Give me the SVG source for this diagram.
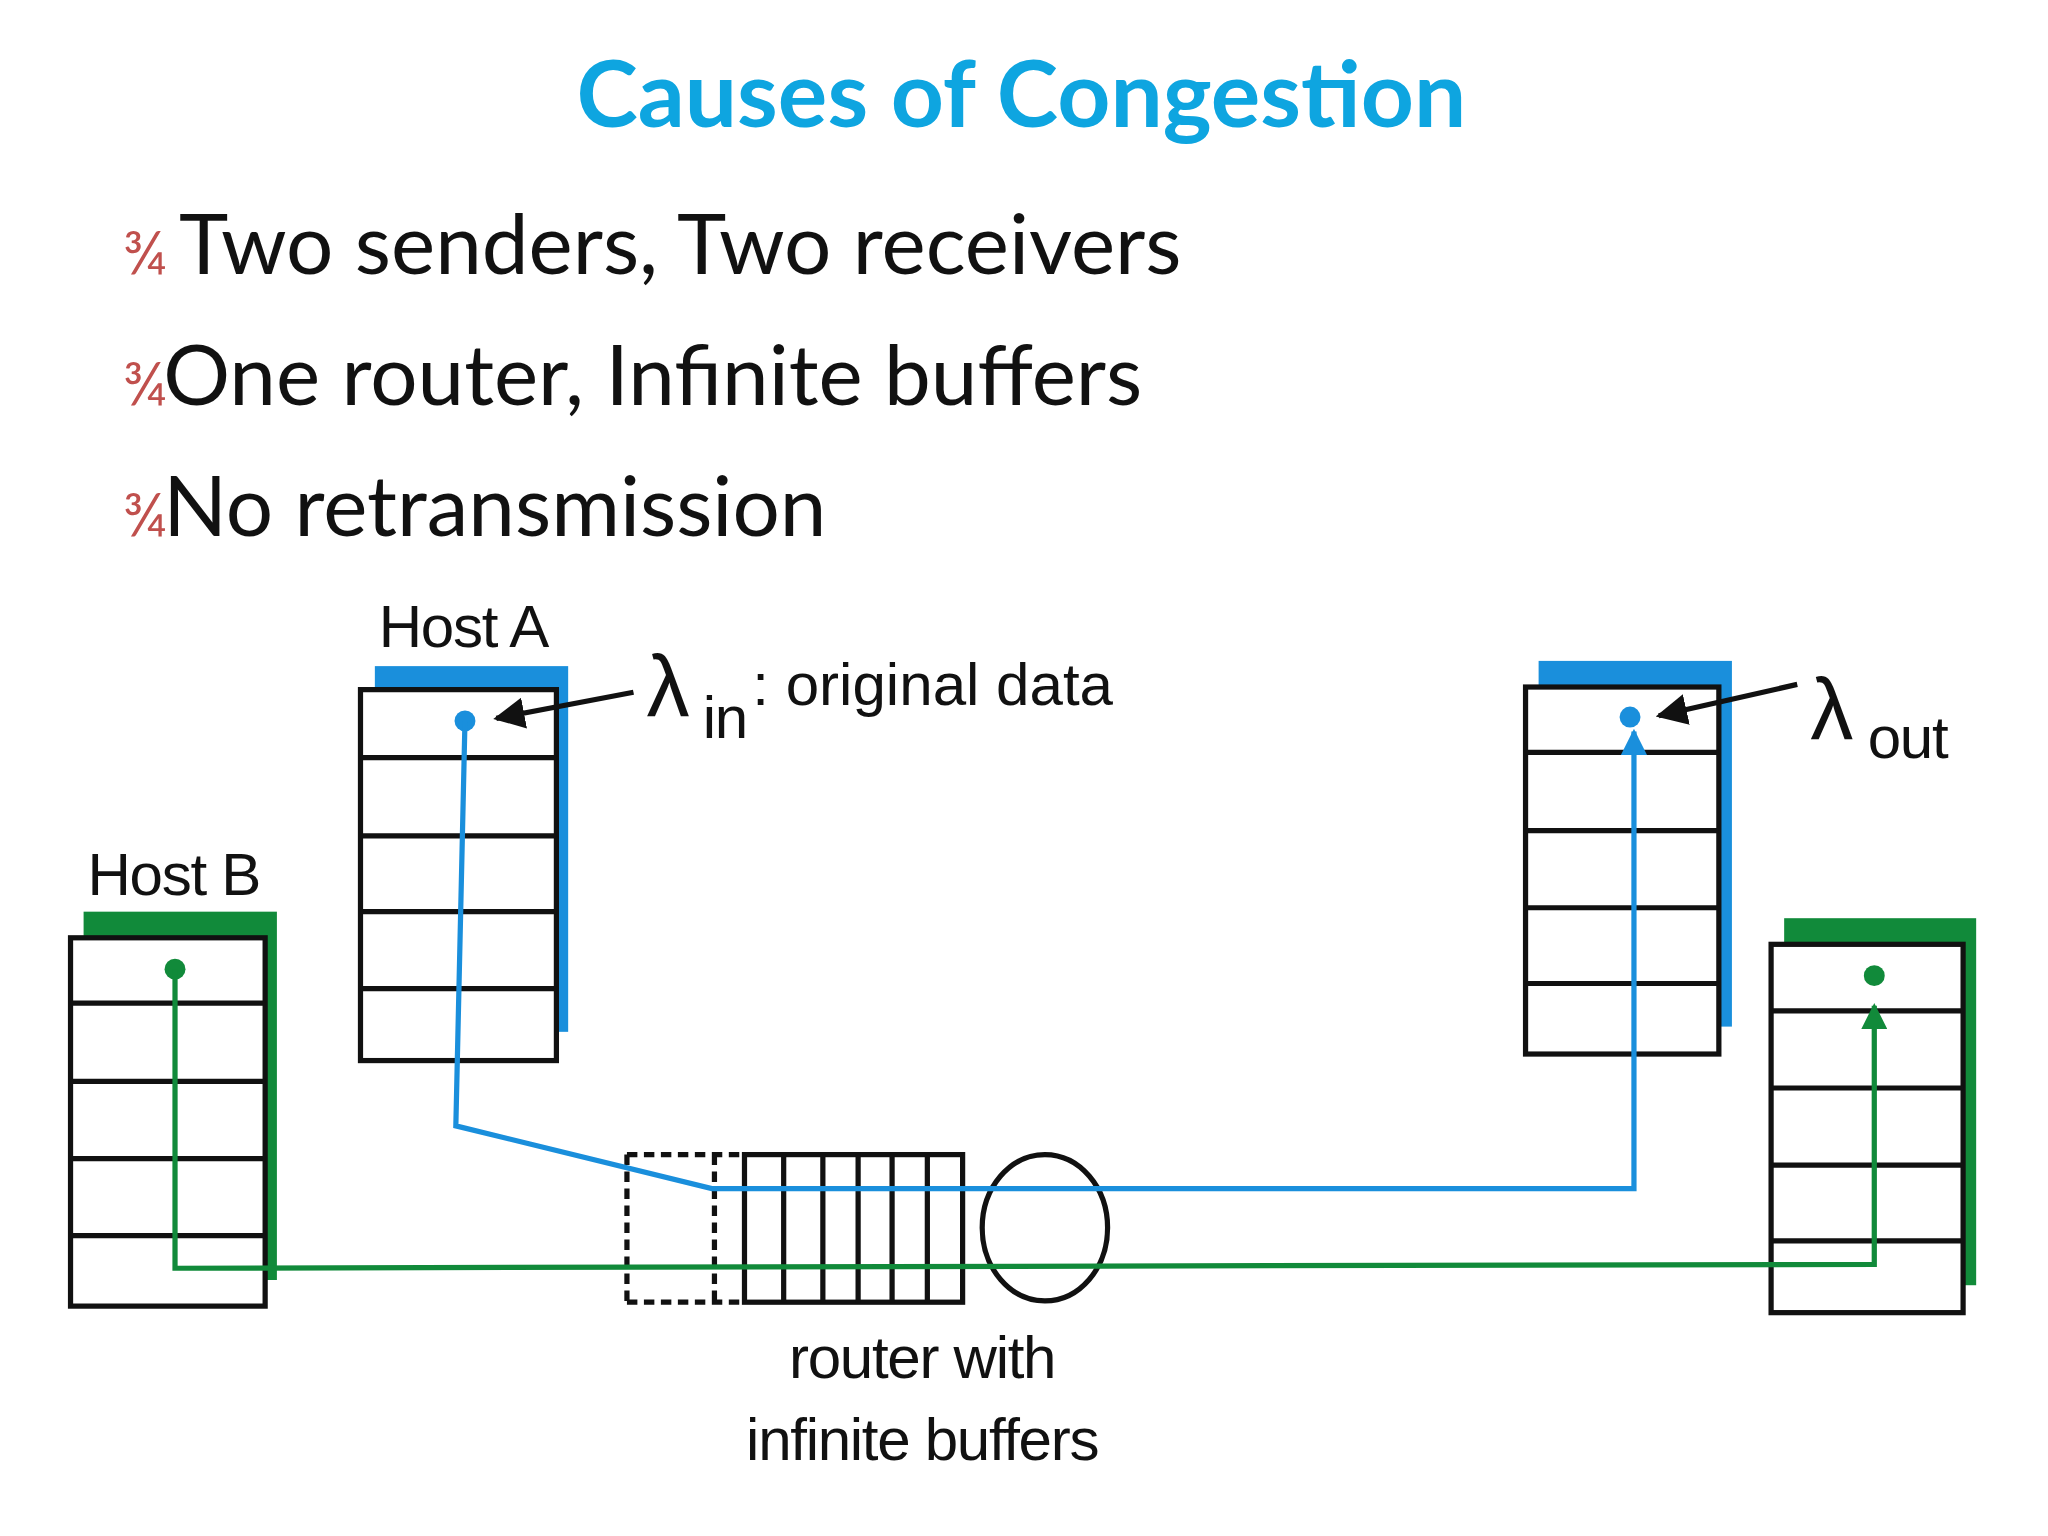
<svg xmlns="http://www.w3.org/2000/svg" width="2048" height="1536" viewBox="0 0 2048 1536">
<style>
.t{font-family:Lato,"Liberation Sans",sans-serif}
.d{font-family:"Liberation Sans",Arial,sans-serif;font-size:46px;fill:#111;letter-spacing:-1px}
.big{font-size:66px}
.box{fill:#fff;stroke:#111;stroke-width:4}
.row{stroke:#111;stroke-width:4}
.bl{fill:none;stroke:#1a8fdc;stroke-width:4}
.gr{fill:none;stroke:#118a3a;stroke-width:4}
.fr{fill:#c0504d;font-size:46px}
</style>
<defs>
<marker id="ab" viewBox="0 0 10 10" refX="9" refY="5" markerWidth="5" markerHeight="5" orient="auto"><path d="M0,0L10,5L0,10z" fill="#1a8fdc"/></marker>
<marker id="ag" viewBox="0 0 10 10" refX="9" refY="5" markerWidth="5" markerHeight="5" orient="auto"><path d="M0,0L10,5L0,10z" fill="#118a3a"/></marker>
<marker id="ak" viewBox="0 0 10 10" refX="9" refY="5" markerWidth="6" markerHeight="6" orient="auto"><path d="M0,0L10,5L0,10z" fill="#111"/></marker>
</defs>
<rect width="2048" height="1536" fill="#fff"/>
<g transform="scale(1.30612)">
<text class="t" x="782" y="97" text-anchor="middle" font-size="71" font-weight="bold" fill="#0ea5e0">Causes of Congestion</text>
<g class="t" font-size="64" fill="#111">
<text class="fr" x="94" y="210">¾</text><text x="137" y="210">Two senders, Two receivers</text>
<text class="fr" x="94" y="310">¾</text><text x="125" y="310">One router, Infinite buffers</text>
<text class="fr" x="94" y="410">¾</text><text x="125" y="410">No retransmission</text>
</g>
<g id="hostA">
<text class="d" x="290" y="495">Host A</text>
<rect x="287" y="510" width="148" height="280" fill="#1a8fdc"/>
<rect class="box" x="276" y="528" width="150" height="284"/>
<path class="row" d="M276 580H426M276 640H426M276 698H426M276 757H426"/>
<circle cx="356" cy="552" r="8" fill="#1a8fdc"/>
</g>
<g id="hostB">
<text class="d" x="67" y="685">Host B</text>
<rect x="64" y="698" width="148" height="282" fill="#118a3a"/>
<rect class="box" x="54" y="718" width="149" height="282"/>
<path class="row" d="M54 768H203M54 828H203M54 887H203M54 946H203"/>
<circle cx="134" cy="742" r="8" fill="#118a3a"/>
</g>
<g id="recvA">
<rect x="1178" y="506" width="148" height="280" fill="#1a8fdc"/>
<rect class="box" x="1168" y="526" width="148" height="281"/>
<path class="row" d="M1168 576H1316M1168 636H1316M1168 695H1316M1168 753H1316"/>
<circle cx="1248" cy="549" r="8" fill="#1a8fdc"/>
</g>
<g id="recvB">
<rect x="1366" y="703" width="147" height="281" fill="#118a3a"/>
<rect class="box" x="1356" y="723" width="147" height="282"/>
<path class="row" d="M1356 774H1503M1356 833H1503M1356 892H1503M1356 950H1503"/>
<circle cx="1435" cy="747" r="8" fill="#118a3a"/>
</g>
<g id="router">
<path d="M480 884H570M480 997H570M480 884V997M547 884V997" fill="none" stroke="#111" stroke-width="4" stroke-dasharray="8,5"/>
<rect class="box" x="570" y="884" width="167" height="113"/>
<path class="row" d="M600 884V997M630 884V997M657 884V997M683 884V997M710 884V997"/>
<ellipse cx="800" cy="940" rx="48" ry="56" fill="#fff" stroke="#111" stroke-width="4"/>
<text class="d" x="706" y="1055" text-anchor="middle">router with</text>
<text class="d" x="706" y="1118" text-anchor="middle">infinite buffers</text>
</g>
<g id="connectors">
<path class="bl" d="M356 552L349 862L545 910H1251V560" marker-end="url(#ab)"/>
<path class="gr" d="M134 742V971L1435 968V770" marker-end="url(#ag)"/>
<line x1="485" y1="530" x2="380" y2="550" stroke="#111" stroke-width="4" marker-end="url(#ak)"/>
<line x1="1376" y1="524" x2="1270" y2="548" stroke="#111" stroke-width="4" marker-end="url(#ak)"/>
</g>
<g id="labels">
<text class="d big" x="495" y="548">λ</text>
<text class="d" x="538" y="565">in</text>
<text class="d" x="576" y="540" style="letter-spacing:0">: original data</text>
<text class="d big" x="1386" y="566">λ</text>
<text class="d" x="1430" y="580">out</text>
</g>
</g>
</svg>
